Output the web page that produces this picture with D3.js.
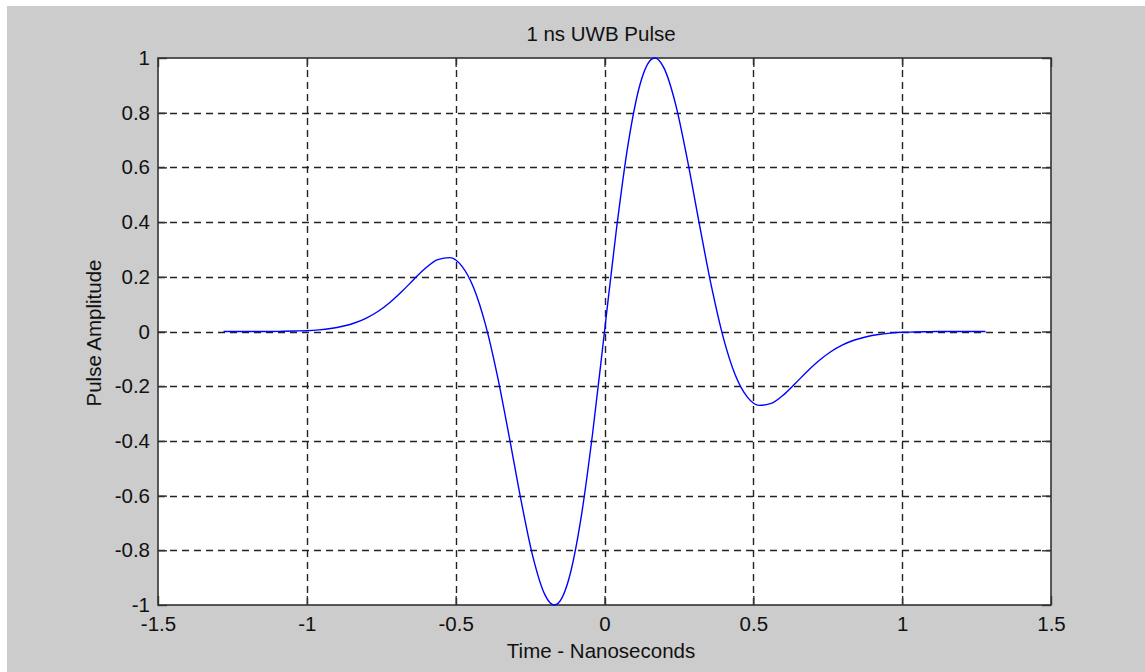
<!DOCTYPE html>
<html>
<head>
<meta charset="utf-8">
<script src="https://cdn.jsdelivr.net/npm/d3@7"></script>
<style>
  html, body { margin: 0; padding: 0; background: #ffffff; }
  svg { display: block; }
  text { font-family: Arial, "Liberation Sans", Helvetica, sans-serif; fill: #111; }
</style>
</head>
<body>
<svg id="chart" width="1145" height="672"></svg>
<script>
// ---- data ----
const title = "1 ns UWB Pulse";
const xLabel = "Time - Nanoseconds";
const yLabel = "Pulse Amplitude";

const xTicks = [-1.5, -1, -0.5, 0, 0.5, 1, 1.5];
const xTickLabels = ["-1.5", "-1", "-0.5", "0", "0.5", "1", "1.5"];
const yTicks = [-1, -0.8, -0.6, -0.4, -0.2, 0, 0.2, 0.4, 0.6, 0.8, 1];
const yTickLabels = ["-1", "-0.8", "-0.6", "-0.4", "-0.2", "0", "0.2", "0.4", "0.6", "0.8", "1"];

// time (ns)
const timeNs = [
  -1.28, -1.24, -1.20, -1.16, -1.12, -1.08, -1.04, -1.00, -0.96, -0.92,
  -0.88, -0.84, -0.80, -0.76, -0.72, -0.68, -0.64, -0.60, -0.56, -0.52,
  -0.48, -0.44, -0.40, -0.36, -0.32, -0.28, -0.24, -0.20, -0.17, -0.16,
  -0.12, -0.08, -0.04, 0.00, 0.04, 0.08, 0.12, 0.16, 0.17, 0.20,
  0.24, 0.28, 0.32, 0.36, 0.40, 0.44, 0.48, 0.52, 0.56, 0.60,
  0.64, 0.68, 0.72, 0.76, 0.80, 0.84, 0.88, 0.92, 0.96, 1.00,
  1.04, 1.08, 1.12, 1.16, 1.20, 1.24, 1.28
];
// pulse amplitude
const amplitude = [
  0, 0, 0, 0, 0, 0.001, 0.002, 0.003, 0.006, 0.011,
  0.019, 0.031, 0.049, 0.074, 0.107, 0.147, 0.191, 0.233, 0.263, 0.270,
  0.240, 0.161, 0.026, -0.161, -0.385, -0.619, -0.826, -0.963, -1.000, -0.997,
  -0.906, -0.690, -0.373, 0, 0.373, 0.690, 0.906, 0.997, 1.000, 0.963,
  0.826, 0.619, 0.385, 0.161, -0.026, -0.161, -0.240, -0.270, -0.263, -0.233,
  -0.191, -0.147, -0.107, -0.074, -0.049, -0.031, -0.019, -0.011, -0.006, -0.003,
  -0.002, -0.001, 0, 0, 0, 0, 0
];

// ---- layout ----
const W = 1145, H = 672;
const plot = { left: 158, top: 58, right: 1051, bottom: 605 };
const fontSize = 20.5;
const gridColor = "#222222";
const axisColor = "#333333";

const svg = d3.select("#chart");

// backgrounds
svg.append("rect").attr("x", 0).attr("y", 0).attr("width", W).attr("height", H).attr("fill", "#ffffff");
svg.append("rect").attr("x", 7).attr("y", 6).attr("width", W - 7).attr("height", H - 6).attr("fill", "#cccccc");
svg.append("rect")
  .attr("x", plot.left).attr("y", plot.top)
  .attr("width", plot.right - plot.left).attr("height", plot.bottom - plot.top)
  .attr("fill", "#ffffff");

const x = d3.scaleLinear().domain([-1.5, 1.5]).range([plot.left, plot.right]);
const y = d3.scaleLinear().domain([-1, 1]).range([plot.bottom, plot.top]);

// grid
const gGrid = svg.append("g").attr("stroke", gridColor).attr("stroke-width", 1.4).attr("stroke-dasharray", "7,5");
gGrid.selectAll("line.vx").data(xTicks.slice(1, -1)).join("line")
  .attr("class", "vx")
  .attr("x1", d => Math.round(x(d)) + 0.5).attr("x2", d => Math.round(x(d)) + 0.5)
  .attr("y1", plot.top).attr("y2", plot.bottom);
gGrid.selectAll("line.hy").data(yTicks.slice(1, -1)).join("line")
  .attr("class", "hy")
  .attr("y1", d => Math.round(y(d)) + 0.5).attr("y2", d => Math.round(y(d)) + 0.5)
  .attr("x1", plot.left).attr("x2", plot.right);

// axes (ticks inward)
const tickLen = 9;
function styleAxis(g) {
  g.selectAll("path.domain").remove();
  g.selectAll(".tick line").attr("stroke", axisColor).attr("stroke-width", 1.4);
  g.selectAll(".tick text").attr("font-size", fontSize).attr("fill", "#111").attr("font-family", 'Arial, "Liberation Sans", sans-serif');
}
svg.append("g").attr("transform", `translate(0,${plot.bottom})`)
  .call(d3.axisBottom(x).tickValues(xTicks).tickFormat((d, i) => xTickLabels[i]).tickSizeInner(-tickLen).tickSizeOuter(0).tickPadding(11))
  .call(styleAxis);
svg.append("g").attr("transform", `translate(0,${plot.top})`)
  .call(d3.axisTop(x).tickValues(xTicks).tickFormat("").tickSizeInner(-tickLen).tickSizeOuter(0))
  .call(styleAxis);
svg.append("g").attr("transform", `translate(${plot.left},0)`)
  .call(d3.axisLeft(y).tickValues(yTicks).tickFormat((d, i) => yTickLabels[i]).tickSizeInner(-tickLen).tickSizeOuter(0).tickPadding(8))
  .call(styleAxis);
svg.append("g").attr("transform", `translate(${plot.right},0)`)
  .call(d3.axisRight(y).tickValues(yTicks).tickFormat("").tickSizeInner(-tickLen).tickSizeOuter(0))
  .call(styleAxis);

// box
svg.append("rect")
  .attr("x", plot.left).attr("y", plot.top)
  .attr("width", plot.right - plot.left).attr("height", plot.bottom - plot.top)
  .attr("fill", "none").attr("stroke", axisColor).attr("stroke-width", 1.6);

// curve
const pts = timeNs.map((t, i) => [t, amplitude[i]]);
const line = d3.line().x(d => x(d[0])).y(d => y(d[1])).curve(d3.curveMonotoneX);
svg.append("path").datum(pts)
  .attr("d", line)
  .attr("fill", "none")
  .attr("stroke", "#0000ff")
  .attr("stroke-width", 1.4);

// labels
svg.append("text").attr("x", 601).attr("y", 41).attr("text-anchor", "middle").attr("font-size", fontSize).text(title);
svg.append("text").attr("x", 601).attr("y", 658).attr("text-anchor", "middle").attr("font-size", fontSize).text(xLabel);
svg.append("text").attr("transform", "translate(101,333) rotate(-90)").attr("text-anchor", "middle").attr("font-size", fontSize).text(yLabel);
</script>
</body>
</html>
